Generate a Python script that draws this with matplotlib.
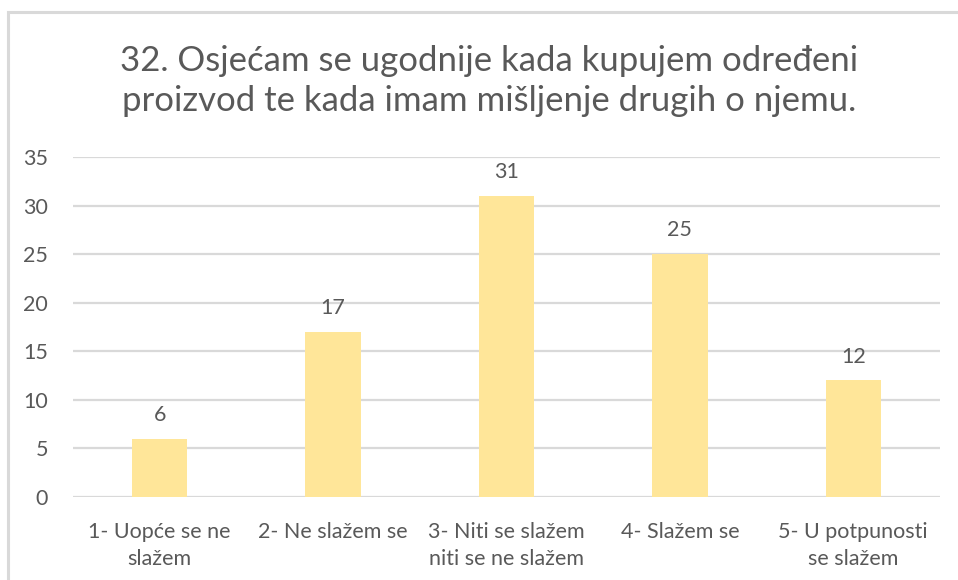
import matplotlib
matplotlib.use("Agg")
import matplotlib.pyplot as plt
from matplotlib.patches import Rectangle

# Survey answers for question 32
TITLE = "32. Osjećam se ugodnije kada kupujem određeni\nproizvod te kada imam mišljenje drugih o njemu."
CATEGORIES = [
    "1- Uopće se ne\nslažem",
    "2- Ne slažem se",
    "3- Niti se slažem\nniti se ne slažem",
    "4- Slažem se",
    "5- U potpunosti\nse slažem",
]
COUNTS = [6, 17, 31, 25, 12]
Y_TICKS = [0, 5, 10, 15, 20, 25, 30, 35]

BAR_COLOR = "#FFE699"
TEXT_COLOR = "#595959"
GRID_COLOR = "#D9D9D9"
W, H = 958, 580

plt.rcParams["font.family"] = ["Lato", "DejaVu Sans"]


def main():
    fig = plt.figure(figsize=(W / 100, H / 100), dpi=100)

    # chart frame (only top/left edges fall inside the image)
    fig.patches.append(
        Rectangle((8 / W, -0.1), 1.2, (H - 12) / H + 0.1, transform=fig.transFigure,
                  fill=False, edgecolor="#D9D9D9", linewidth=2.2)
    )

    ax = fig.add_axes([73 / W, (H - 497) / H, (940 - 73) / W, (497 - 157) / H])
    x = range(len(COUNTS))
    bars = ax.bar(x, COUNTS, width=0.32, color=BAR_COLOR, zorder=3)
    ax.bar_label(bars, labels=[str(v) for v in COUNTS], padding=10,
                 fontsize=15.5, color=TEXT_COLOR)

    ax.set_xlim(-0.5, len(COUNTS) - 0.5)
    ax.set_ylim(0, 35)
    ax.set_yticks(Y_TICKS)
    ax.set_xticks(list(x))
    ax.set_xticklabels(CATEGORIES, fontsize=15.5, color=TEXT_COLOR, linespacing=1.45)
    ax.tick_params(axis="y", labelsize=15.5, labelcolor=TEXT_COLOR, length=0, pad=18)
    ax.tick_params(axis="x", length=0, pad=18)
    ax.yaxis.grid(True, color=GRID_COLOR, linewidth=1.6, zorder=0)
    for side in ("top", "right", "left", "bottom"):
        ax.spines[side].set_visible(False)
    ax.set_axisbelow(True)

    fig.text(489 / W, 1 - 81 / H, TITLE, ha="center", va="center", fontsize=25,
             color=TEXT_COLOR, linespacing=1.32)

    fig.savefig("out.png", dpi=100)


if __name__ == "__main__":
    main()
